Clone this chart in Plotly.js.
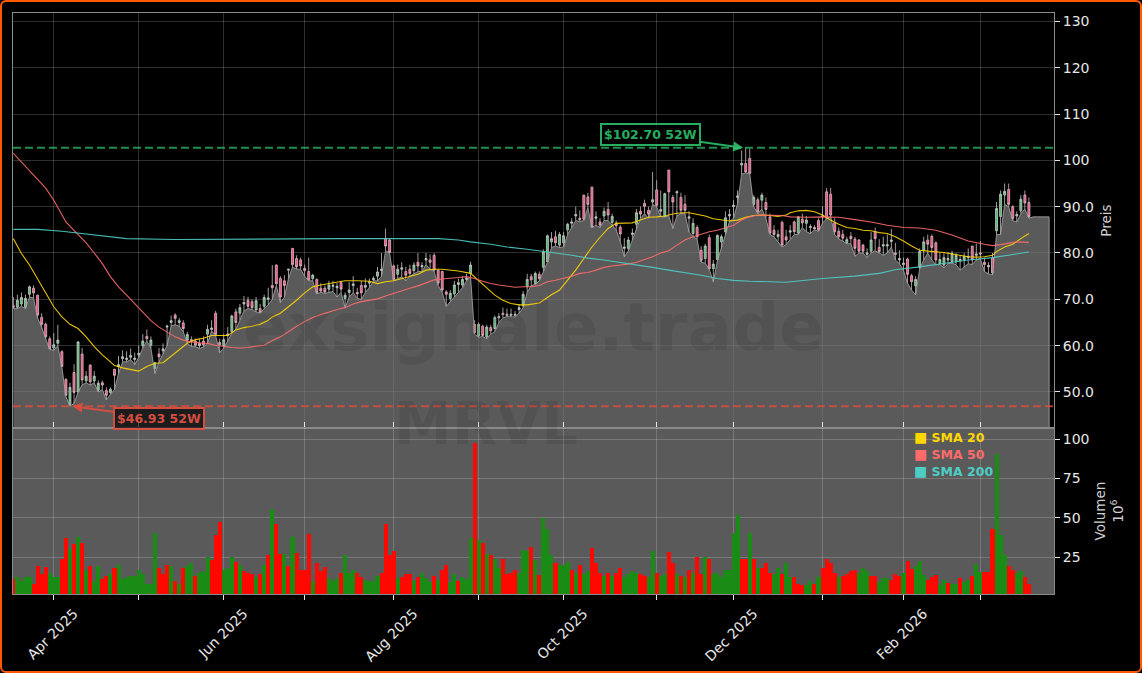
<!DOCTYPE html>
<html><head><meta charset="utf-8">
<script src="https://cdn.plot.ly/plotly-3.0.1.min.js"></script>
<style>
html,body{margin:0;padding:0;background:#000;overflow:hidden}
#chart{width:1142px;height:673px}
#frame{position:fixed;left:0;top:0;width:1142px;height:673px;box-sizing:border-box;border:2.5px solid #ff5a00;border-radius:6px;pointer-events:none}
</style></head><body>
<div id="chart"></div><div id="frame"></div>
<script>
const opens=[68.6,68.3,69,68.3,71.1,72.4,70.9,66.1,64.6,61.5,
59.5,60.5,58.7,52.7,47.3,54.2,50,58.2,52.4,55.8,
52.4,50.4,52,50.3,49.9,54.9,55.5,57.2,57,57.5,
57,58,60,62,60.1,55.1,58.2,58.9,64,65,
66.6,65,64.9,61.2,61.3,61,60,61,62.5,63.5,
67,60.7,60,62.2,63,67.3,67,69,69.8,69.5,
67.7,68,68.5,70,73,77.4,74.5,74,76.3,81,
78.8,78.5,76.7,76,74.5,74.3,72.4,72.4,72.2,72.8,
72.5,73.6,70.2,71.5,73,71.5,73,72.6,73.5,74.2,
75,76.2,83.1,82.8,77.2,75.4,76.5,76,76.5,76.2,
78,77,78.5,78.5,79.5,76.3,76,71.6,70.2,71.2,
73.2,73.1,74.3,75.6,64.6,62.1,64.2,61.9,63.9,63.7,
66,67,66.5,66.5,66.5,67.8,68.6,72.7,74.9,73.4,
75.4,76.9,78.1,82.4,83.5,81.7,82.2,85,86.4,88,
87.5,92.5,92.1,94.2,87.5,86.7,88,89.4,86.6,86.5,
85.6,81,81,84,86.2,89,90.7,89.2,91,93.6,
89,87.9,97.9,92,93,92,90.5,87.5,84.2,85.5,
80.6,78.8,83.3,76.6,78.6,82.4,84.6,88,90,92,
99,99.3,100.4,90.5,91.5,91.4,90.9,87.8,84.9,83.5,
86.6,83.5,84.5,86.7,84.3,87.3,86.4,85.5,85.5,87,
87.8,93.2,92.7,86.5,84.7,84,82.2,83.6,83,82.8,
81.7,79.7,80.4,84.6,81.2,81.5,81.5,82.5,80,78.5,
77.5,78.7,75.1,72.9,76.9,80.6,82.8,83.6,82.2,77.7,
77.4,78.5,78.1,78.1,78.3,78.5,79,81.5,79.5,80,
78,77,79,84.8,87.9,92.5,93.7,90,88,89.1,92.5,90.9];
const highs=[70.5,71,71.5,71,73,73,71,67,65,62,
62.7,64.5,59,53,52,56,61,59.5,54.5,56,
54.5,52.5,52.5,51,51,55,57.8,59,58.8,59.4,
58.5,60,62.5,63.5,62,56.5,59.5,60.5,64.5,66.5,
67,66,65.5,63,62,61.5,61.5,62,64.5,65.5,
67.5,61.5,62.5,64,66.7,68,69,70.7,70.5,70,
70.5,69,71,72.5,77.4,77.5,75,75.2,76.5,81,
79.5,79,77.5,79,75.5,74.5,73.5,73,74,74,
73.5,74,71.5,73.7,75,72.5,74,74.5,74.5,75,
77,80,85.3,83,77.5,77.5,78,77,77.5,78,
80,78,80,79.7,80,76.5,76.2,72,72,74,
74.5,75,75.5,78.1,65.5,65,64.5,64.5,64.5,66.5,
67,68.2,68,68,67.5,69,71.8,75.5,75.5,76,
76,80.8,84,84.5,84.8,84.5,84.5,86.5,87.5,90,
89.2,92.5,93,94.3,89,87.5,89.8,91,88.5,87,
86,83.2,83.5,85.3,89.5,90,91.5,90,97.5,95.7,
93.5,93,97.9,92.5,93.5,93,92.5,89,87.5,86,
81.5,82,84,78.5,84,84,89,89.5,91.4,93.5,
102.1,102.7,102.5,92.5,92,93,92,88.5,86,85,
87,85,86,87,88,88.5,88,86.2,86,87.5,
90,94,94,87.5,85.5,85,83.5,84.5,83.5,83,
82,81,84.5,85.5,83,83.5,84,85.2,82.2,80.6,
79,79,75.5,75,81,83.5,84,84,82.5,80,
80,80.2,80.5,80,79.5,80,81,81.5,82,82.6,
79,78,80,91,93.5,95,95,90.3,89,92.5,93.5,92];
const lows=[68,68,68.5,68,70.5,70.3,66,64,61.5,59.2,
59,60,55.4,49,46.93,47.5,50,51.5,52,51.5,
52,50,50.5,48.3,49.5,50.5,54,56.5,56.5,57,
55.9,57.5,59.5,61,59.5,54,56.5,58.3,60,64.3,
64.5,64.2,63,60.5,59.8,59.8,59.4,59.7,60.5,63.2,
62.2,58.5,59.5,61,62.7,63.5,65.5,67.5,68,67.8,
67.3,67,68,68.8,70,73,69.3,70.5,74.5,77,
76.5,76.5,75,74,74,71.2,71.5,71.3,71.5,71.7,
70.5,71.5,68.2,70.5,71.5,70.2,70,71.5,72.5,74,
74,75,80.5,80,74,74.5,74.8,74,75,75.5,
76,76,77.5,76.5,76,73,71.5,68.5,69.5,70.5,
71.5,72.5,74,75,62.5,61.8,62,61.5,62.5,63,
65,66,66.3,66.2,66.2,67,68.2,71.5,73,73.2,
74,76,78,81.2,81.5,81.2,81.3,84,85.5,87,
86.8,87,89.8,85.5,86,85.5,87,87,86,85,
82.5,79.2,80.5,82.8,85,87.5,88.5,87.5,90.5,90,
87.8,87.8,88,85.3,88,88.5,88.5,84.5,83.5,83,
78,77.8,76.5,73.8,78.3,81,84,86.8,87.5,90.7,
97,97.3,97.2,90,88.5,89.5,87.5,84,83.5,82.5,
81.3,81.8,83,84,84,85.5,84.6,84.2,85,84.7,
86.5,87.4,87.9,84,83,82.6,82,82,79.3,80,
80,79,80,80.5,80,79.5,80,81.3,78.5,77.7,
76.3,73.5,72,71,76.5,78.5,80,78.5,77.5,77.5,
76.8,77.7,77.8,77.5,76.3,77,77.7,77.5,78.5,78.8,
76,75.5,75.3,84,84,90.5,90,87,86.7,88.5,89.5,87.5];
const closes=[68.3,69.8,70.4,70.2,72.7,71.4,66.6,64.6,61.9,59.3,
60.2,61.2,55.5,49.3,51,49.9,60.8,52.6,53.4,52.2,
53.4,51.9,51.5,49.3,50.6,53.6,55.9,57.6,57.3,57.9,
57.3,58.3,61,61.5,61.2,56.3,57.6,59.3,64.2,65.4,
65.9,65.4,63.7,62.4,60.9,60.1,60.5,60.2,63.5,63.8,
62.4,60.2,61.3,62.5,66.4,65,68.2,69.3,68.5,68.2,
69.7,67.2,70.4,70.3,72.5,73.4,70.5,73,76.5,77.5,
77,77.2,76.2,74.2,75.2,71.4,71.8,71.6,73.1,73,
72.8,72.2,70.9,72,73.3,71.2,71.4,73,73.8,74.5,
75.9,76.5,81.5,80.1,74.3,76.5,76.8,75.2,75.6,77.4,
77.2,77.3,78.8,78,76.3,73.5,72,71.1,71.3,73.1,
73.6,74.3,74.6,77.4,62.8,64.6,62.2,64,63.2,66.1,
66.3,66.7,66.8,66.8,66.8,68.2,71.1,74.3,74.2,75.6,
74.5,80.2,83.7,83.1,82.2,84,83.7,86.2,86.7,88.3,
87.2,87.3,90.5,85.5,87.8,86,89,88.2,87.9,85.9,
84.1,81.3,82.8,84.3,88.7,88.4,90.1,88.4,91.5,90.3,
89.4,92.8,93.2,91,93.2,89.2,89.2,87.8,86.4,83.5,
78.4,81.5,76.6,77.6,83.8,83.5,87.6,88.3,90.3,92.3,
99.3,97.5,97.2,92,88.9,92.5,89.4,84.3,84,84,
81.7,82.8,84.8,84.6,87.8,86.5,87.1,85.7,85.2,85,
88,87.5,88.2,84.6,83.5,83.2,82.9,83.1,81,80.4,
80.4,80,82.8,83.1,80.3,81.8,81.8,82.8,79.7,78.8,
77.8,75.4,73.8,74.3,80.3,82.4,81.9,81.2,78.5,78.6,
79,78.8,79.9,79.5,78.6,79.3,79.3,78.5,79.8,79.8,
77.5,77.3,75.7,89.6,92.7,93.3,90.5,87.4,88.3,91.6,90.8,87.8];
const volumes=[11,12.5,10,12,12,8,19,14,18.5,15,
12,12,24,37,30,33,38,34,17,19,
10,19.5,11,13,14,18,20,11,12,13,
13,17,14,8,8,40,18,14,20,19,
10,8,18,19,21,13,15,16,25,23,
39,47,17,18,25,22,20,16,15,14,
12,14,20,26,55.5,46,27,27,19,38,
27.5,17,17,39.5,10,21.5,16,18.5,11.5,10,
11.5,15,26,15,17,15,12,10.5,10,10,
13,15,46,26,29,11.5,12,14,14.5,10,
12,15,11.5,9,13,10.5,17,20,9,14,
10,12,11,37,97.5,36,34,27,26,24,
18,24,14,15,17,15,29.5,29,31.5,23,
13.5,50,43,26,21,20,20,22,17,15,
20,14,16,31,21,15,13,15,13,15,
18,12,14,16,15,14,13,12,29,15,
13,14,28,21,14,13,12,17,15,25,
14,25,24,14,15,12,17,17,40,52,
24,24,40,24,18,18,21,15,14,18,
14,21,12,12,8,7,7,10,8,12,
18,24,21,15,12,13,14,16,17,15,
18,16,13,13,9,11.7,11.7,10.6,14,12.7,
14.8,22.7,17.6,19.5,22.7,13.8,10.6,12,13.8,7,
10.6,8.5,7.6,8,11.7,9,10.6,12.7,20.8,15.5,
15.5,15.5,43,90.5,39,26.5,19,17,15,16,12,8];
const volumeDirs=("rggggrrrrg"+"ggrrgrgrgr"+"ggrrgrgggg"+"ggggggrrrg"+"rgrggrgggr"+"rrgggrgrrr"+
"grgrgrrgrg"+"rrrrgrrrgg"+"grgggrrggg"+"grrrrgrrrg"+"rgggrgrrgg"+"rgggrgrgrg"+"grrrrgggrg"+
"rgggrgggrg"+"rggrrrgrgr"+"rggggrrggr"+"ggrrgrgrgr"+"rgrggggggg"+"rrgrgrrrgg"+"rggrrrggrg"+
"rrrrgrrrrg"+"ggrrgggrrr"+"grrgggrrrg"+"grggrggrgg"+"rrrgggrrggrr").split("");
const sma20Days=[0,2,4,6,8,10,12,14,16,18,20,22,24,25,27,30,31,33,35,37,39,41,43,45,47,49,51,53,55,57,59,61,63,
64,66,68,70,72,74,76,78,80,82,85,88,90,92,94,96,98,100,102,104,106,108,110,113,115,117,119,121,123,125,127,
130,133,135,137,139,141,143,145,147,149,151,153,155,157,159,161,163,165,167,169,171,173,175,177,179,181,183,185,187,189,191,
192,194,196,198,200,202,204,206,208,210,212,214,216,218,220,222,224,226,228,230,232,234,236,238,240,242,243,245,247,249,251];
const sma20=[83.1,79.9,77.4,74.5,71.6,68.4,66.2,64.6,63.7,61.9,59.8,58,56.5,55.7,55.2,54.7,54.5,55.5,56.2,56.3,57.7,59,60.5,61.3,61.6,62.2,62.2,62.2,63.4,63.9,64.2,64.6,65.5,
66.2,67,68.3,69.8,71.4,72.7,73.1,73.4,73.8,74,74,73.9,73.4,73.8,74,74.5,74.9,75.4,76.3,76.5,76.5,76.3,76.1,75.6,74.1,72.4,70.9,69.8,69.1,68.8,68.8,
69.2,71,72,74.1,76.3,78.8,81.3,83.4,85.3,86.4,86.4,86.5,87.1,87.7,87.8,88,88.4,88.7,88.7,88.4,88,87.4,87.1,86.9,87.1,87.7,88.1,88.2,88.1,87.9,88.2,
88.7,89.1,89.2,88.9,88.2,87.1,86.2,85.5,85.3,84.9,84.8,84.4,84.2,83.5,82.6,81.5,80.6,80.4,80.3,80.1,79.8,79.5,79.2,79.1,79.2,79.5,80.3,81.3,81.9,83.1,84.2];
const sma50Days=[0,4,8,10,13,15,18,20,22,24,26,28,30,32,34,36,38,40,42,44,46,48,50,52,54,56,58,60,62,
64,66,68,70,72,74,76,78,80,82,84,86,88,90,92,94,96,98,100,102,104,106,108,110,112,114,116,118,120,122,124,126,
128,130,132,134,136,138,140,142,144,146,148,150,152,154,156,158,160,162,164,166,168,170,172,174,176,178,180,182,184,186,188,190,
192,196,200,204,208,212,216,220,224,228,232,236,240,242,244,246,248,251];
const sma50=[101.5,97.7,94,91.4,86.7,84.9,82.2,80,77.7,74.9,72.7,70.9,69,67.1,65.4,64,63,61.9,61.2,60.8,60.6,60.5,60.1,59.8,59.6,59.5,59.6,59.9,60.1,
61.1,61.9,63,64.2,65.2,66.1,66.7,67.3,67.8,68.2,69,69.5,69.8,70.1,70.7,71.3,71.8,72.4,72.9,73.6,74.2,74.4,74.5,74.7,74.9,74.5,73.9,73.4,73.1,72.8,72.6,72.7,
72.7,73,73.8,74.1,74.5,75,75.6,75.8,76.3,76.9,77.2,77.4,77.6,78,78.6,79.2,80,80.5,81.7,82.8,83.5,84.1,84.6,84.9,85.5,86,87.1,87.8,88.2,88.2,88.2,88.1,
87.8,87.7,87.8,87.7,87.2,86.7,86,85.5,85.4,84.9,83.9,82.6,81.9,81.6,81.8,82.1,82.4,82.3];
const sma200Days=[0,6,12,20,28,40,52,64,80,95,105,110,113,118,122,127,130,134,138,142,146,150,154,158,162,166,170,174,178,182,186,191,200,208,214,218,224,230,236,242,246,251];
const sma200=[85.1,85.1,84.7,83.9,83.1,82.9,83,83,83.1,83.1,83.1,82.8,82.4,81.9,81.3,80.8,80.5,80,79.5,78.9,78.5,78,77.4,76.9,76.3,75.8,75.2,74.5,74.1,73.9,73.8,73.7,74.5,75,75.6,76.4,77,77.7,78.5,79,79.5,80.2];
const highPrice=102.70, lowPrice=46.93;
const monthDays=[10,31,52,72,94,115,136,159,178,200,220,239];
const monthLabels=["Apr 2025","","Jun 2025","","Aug 2025","","Oct 2025","","Dec 2025","","Feb 2026",""];
const priceTicks=[130,120,110,100,90,80,70,60,50];
const priceLabels=["130","120","110","100","90.0","80.0","70.0","60.0","50.0"];
const volumeTicks=[100,75,50,25];
const tailDays=[252,253,254,255,256];

const days=closes.map((_,i)=>i);
const F='"DejaVu Sans"';
const grid='rgba(255,255,255,0.18)', frame='#8a8a8a', fg='#e6e6e6';
const traces=[
 {type:'scatter',mode:'lines',x:days.concat(tailDays,[256]),y:lows.concat(tailDays.map(()=>closes[251]),[0]),
  fill:'tozeroy',fillcolor:'rgba(128,128,128,0.7)',line:{color:'rgba(170,170,170,0.8)',width:1},yaxis:'y',hoverinfo:'skip'},
 {type:'candlestick',x:days,open:opens,high:highs,low:lows,close:closes,yaxis:'y',
  increasing:{line:{color:'#c8c8c8',width:0.8},fillcolor:'#4fbf6f'},
  decreasing:{line:{color:'#d8b8c0',width:0.8},fillcolor:'#f0507f'}},
 {type:'scatter',mode:'lines',x:sma20Days,y:sma20,line:{color:'#FFD700',width:1.1},yaxis:'y',opacity:.9},
 {type:'scatter',mode:'lines',x:sma50Days,y:sma50,line:{color:'#FF6B6B',width:1.1},yaxis:'y',opacity:.9},
 {type:'scatter',mode:'lines',x:sma200Days,y:sma200,line:{color:'#4ECDC4',width:1.1},yaxis:'y',opacity:.9},
 {type:'bar',x:days,y:volumes,yaxis:'y2',width:1,marker:{color:volumeDirs.map(d=>d==='g'?'#1a8c16':'#ff0800'),line:{width:0}}}
];
const legendAnn=(t,c,y)=>({xref:'paper',yref:'paper',x:(911.5-12.5)/1041.5,y:(594-y)/581.5,xanchor:'left',yanchor:'middle',showarrow:false,
  text:'<b><span style="font-size:14px">■</span> '+t+'</b>',font:{family:F,size:12.5,color:c}});
const layout={
 width:1142,height:673,paper_bgcolor:'#000',plot_bgcolor:'#000',showlegend:false,bargap:0,
 margin:{l:12.5,r:88,t:12.5,b:79,pad:0},
 font:{family:F,size:14,color:fg},
 xaxis:{domain:[0,1],range:[-0.08,257.2],anchor:'y2',tickmode:'array',tickvals:monthDays,ticktext:monthLabels,tickangle:-45,ticklabelshift:20,
  ticks:'outside',ticklen:5,tickcolor:fg,tickfont:{family:F,size:14,color:fg},showgrid:true,gridcolor:grid,gridwidth:1,
  showline:true,linecolor:frame,linewidth:1,mirror:'all',rangeslider:{visible:false},zeroline:false},
 yaxis:{domain:[0.2855,1],range:[42.2,131.8],side:'right',anchor:'x',tickmode:'array',tickvals:priceTicks,ticktext:priceLabels,
  ticks:'outside',ticklen:5,tickcolor:fg,tickfont:{family:F,size:14,color:fg},showgrid:true,gridcolor:grid,showline:true,linecolor:frame,linewidth:1,mirror:true,zeroline:false,
  title:{text:'Preis',font:{family:F,size:13.5,color:'#cfcfcf'},standoff:8}},
 yaxis2:{domain:[0,0.2855],range:[1.5,107],side:'right',anchor:'x',tickmode:'array',tickvals:volumeTicks,
  ticks:'outside',ticklen:5,tickcolor:fg,tickfont:{family:F,size:14,color:fg},showgrid:true,gridcolor:grid,showline:true,linecolor:frame,linewidth:1,mirror:true,zeroline:false,
  title:{text:'Volumen<br>10<sup>6</sup>',font:{family:F,size:13.5,color:'#cfcfcf'},standoff:7}},
 shapes:[
  {type:'rect',xref:'x domain',yref:'y2 domain',x0:0,x1:1,y0:0,y1:1,fillcolor:'#5a5a5a',line:{width:0},layer:'below'},
  {type:'line',xref:'x domain',yref:'y',x0:0,x1:1,y0:highPrice,y1:highPrice,line:{color:'rgba(46,204,113,0.7)',width:2,dash:'8px,4px'}},
  {type:'line',xref:'x domain',yref:'y',x0:0,x1:1,y0:lowPrice,y1:lowPrice,line:{color:'rgba(231,76,60,0.75)',width:2,dash:'8px,4px'}}
 ],
 annotations:[
  {xref:'paper',yref:'paper',x:0.5,y:(594-327)/581.5,text:'<b>exsignale.trade</b>',showarrow:false,font:{family:F,size:66,color:'rgba(0,0,0,0.08)'}},
  {xref:'paper',yref:'paper',x:(486-12.5)/1041.5,y:(594-460)/581.5,text:'<b>MRVL</b>',showarrow:false,font:{family:F,size:58,color:'rgba(0,0,0,0.08)'}},
  {xref:'x',yref:'y',x:180.4,y:highPrice,ax:-93,ay:-13,text:'<b>$102.70 52W</b>',showarrow:true,arrowhead:2,arrowsize:1,arrowwidth:2,arrowcolor:'#2ecc71',
   font:{family:F,size:12.5,color:'#2ecc71'},bgcolor:'rgba(0,0,0,0.8)',bordercolor:'#2ecc71',borderwidth:2,borderpad:2,opacity:.85},
  {xref:'x',yref:'y',x:14.6,y:lowPrice,ax:87,ay:12,text:'<b>$46.93 52W</b>',showarrow:true,arrowhead:2,arrowsize:1,arrowwidth:2,arrowcolor:'#e74c3c',
   font:{family:F,size:12.5,color:'#e74c3c'},bgcolor:'rgba(0,0,0,0.8)',bordercolor:'#e74c3c',borderwidth:2,borderpad:2,opacity:.85},
  legendAnn('SMA 20','#FFD700',437),legendAnn('SMA 50','#FF6B6B',454),legendAnn('SMA 200','#4ECDC4',471)
 ]
};
Plotly.newPlot('chart',traces,layout,{displayModeBar:false,staticPlot:true});
</script></body></html>
